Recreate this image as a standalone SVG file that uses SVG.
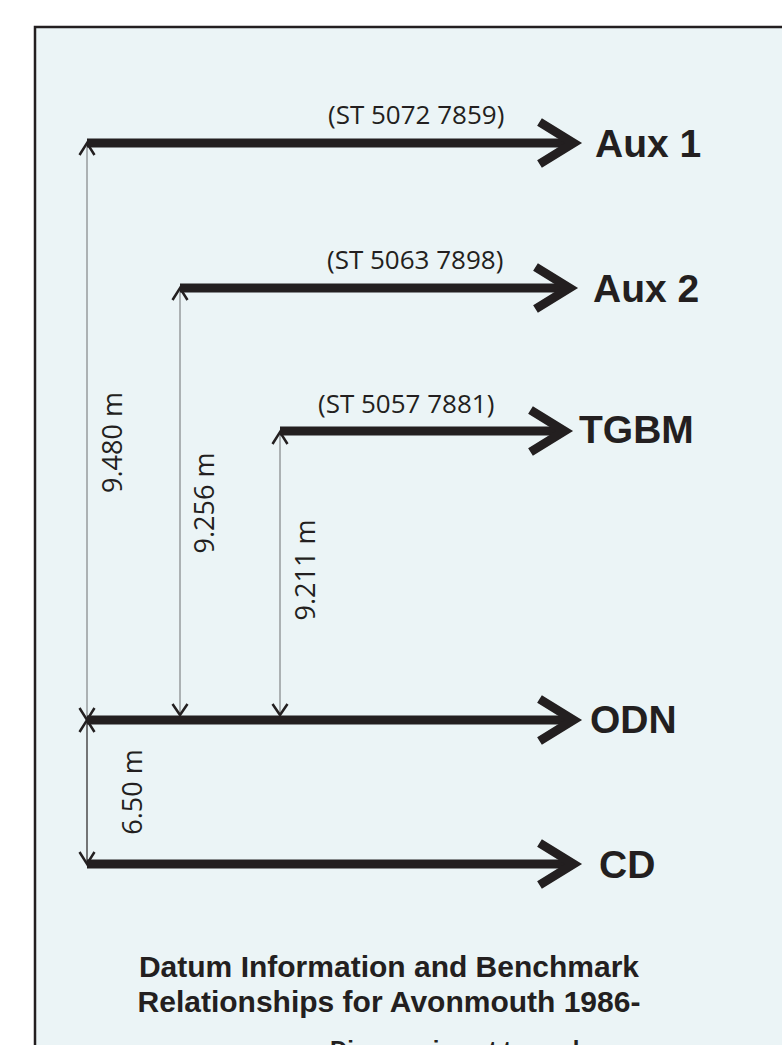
<svg xmlns="http://www.w3.org/2000/svg" width="782" height="1045" viewBox="0 0 782 1045">
<style>
.thick{fill:none;stroke:#231f20;stroke-width:9;stroke-linejoin:miter;stroke-miterlimit:10;stroke-linecap:butt}
.dim{fill:none;stroke:#6d6e70;stroke-width:1}
.dimd{fill:none;stroke:#231f20;stroke-width:1.2}
.ah{fill:none;stroke:#231f20;stroke-width:2.5;stroke-linejoin:miter}
.lbl{font-family:"Liberation Sans",Arial,sans-serif;font-weight:bold;font-size:39px;fill:#231f20}
.crd{font-family:"Open Sans","DejaVu Sans",sans-serif;font-size:26px;fill:#231f20}
.val{font-family:"Open Sans","DejaVu Sans",sans-serif;font-size:27px;fill:#231f20;text-anchor:middle}
.ttl{font-family:"Liberation Sans",Arial,sans-serif;font-weight:bold;font-size:30px;fill:#231f20;text-anchor:middle}
.sub{font-family:"Liberation Sans",Arial,sans-serif;font-weight:bold;font-size:24px;fill:#231f20}
</style>
<rect x="0" y="0" width="782" height="1045" fill="#ffffff"/>
<rect x="35" y="27" width="800" height="1100" fill="#ebf4f6" stroke="#231f20" stroke-width="2.5"/>

<g id="connectors">
  <line class="dim" x1="87" y1="143" x2="87" y2="720"/>
  <line class="dimd" x1="87" y1="720" x2="87" y2="864"/>
  <line class="dim" x1="180" y1="288" x2="180" y2="715"/>
  <line class="dim" x1="280" y1="431" x2="280" y2="715"/>
  <path class="ah" d="M79.5,155 L87,143 L94.5,155"/>
  <path class="ah" d="M79.5,708 L87,720 L94.5,708"/>
  <path class="ah" d="M79.5,732 L87,720 L94.5,732"/>
  <path class="ah" d="M79.5,852 L87,864 L94.5,852"/>
  <path class="ah" d="M172.5,300 L180,288 L187.5,300"/>
  <path class="ah" d="M172.5,704 L180,715 L187.5,704"/>
  <path class="ah" d="M272.5,444 L280,432 L287.5,444"/>
  <path class="ah" d="M272.5,704 L280,715 L287.5,704"/>
</g>

<g id="aux1">
  <line class="thick" x1="87" y1="143" x2="572" y2="143"/>
  <polyline class="thick" points="539.5,122 573.5,143 539.5,164"/>
  <text class="lbl" x="595" y="157">Aux 1</text>
  <text class="crd" x="328" y="124">(ST 5072 7859)</text>
</g>

<g id="aux2">
  <line class="thick" x1="180" y1="288" x2="568" y2="288"/>
  <polyline class="thick" points="535.5,267 569.5,288 535.5,309"/>
  <text class="lbl" x="593" y="302">Aux 2</text>
  <text class="crd" x="327" y="269">(ST 5063 7898)</text>
</g>

<g id="tgbm">
  <line class="thick" x1="280" y1="431" x2="563" y2="431"/>
  <polyline class="thick" points="530.5,410 564.5,431 530.5,452"/>
  <text class="lbl" x="579" y="443">TGBM</text>
  <text class="crd" x="318" y="413">(ST 5057 7881)</text>
</g>

<g id="odn">
  <line class="thick" x1="87" y1="720" x2="572" y2="720"/>
  <polyline class="thick" points="539.5,699 573.5,720 539.5,741"/>
  <text class="lbl" x="590" y="733">ODN</text>
</g>

<g id="cd">
  <line class="thick" x1="87" y1="864" x2="572" y2="864"/>
  <polyline class="thick" points="539.5,843 573.5,864 539.5,885"/>
  <text class="lbl" x="599" y="878">CD</text>
</g>

<g id="values">
  <text class="val" transform="translate(122,442.5) rotate(-90)">9.480 m</text>
  <text class="val" transform="translate(213.5,503) rotate(-90)">9.256 m</text>
  <text class="val" transform="translate(315,570) rotate(-90)">9.211 m</text>
  <text class="val" transform="translate(141.5,792) rotate(-90)">6.50 m</text>
</g>

<g id="title">
  <text class="ttl" x="389" y="977">Datum Information and Benchmark</text>
  <text class="ttl" x="389" y="1012">Relationships for Avonmouth 1986-</text>
  <text class="sub" x="330" y="1058">Diagram is not to scale</text>
</g>
</svg>
